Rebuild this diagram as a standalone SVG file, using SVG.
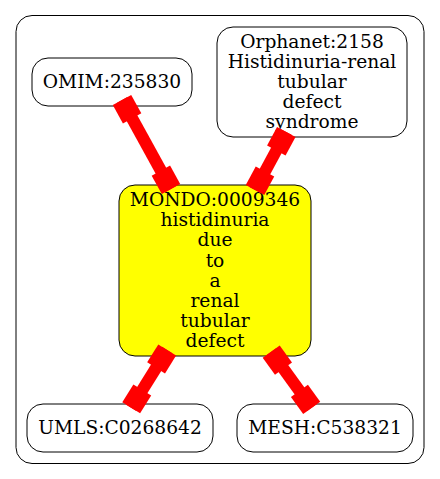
<svg xmlns="http://www.w3.org/2000/svg" width="440" height="479" viewBox="0 0 440 479">
<style>
.node rect{fill:#fff;stroke:#000;stroke-width:1}
.node text{font-family:"DejaVu Serif","Liberation Serif",serif;font-size:18.67px;text-anchor:middle;fill:#000}
.edge line{stroke:#f00;stroke-width:12}
.edge rect{fill:#f00}
</style>
<rect width="440" height="479" fill="#fff"/>
<rect id="cluster" x="16" y="15.5" width="408" height="448" rx="16" fill="none" stroke="#000" stroke-width="1"/>
<g id="n_omim" class="node">
<rect x="32" y="58" width="160" height="48" rx="16"/>
<text x="112" y="87.5">OMIM:235830</text>
</g>
<g id="n_orphanet" class="node">
<rect x="217" y="27" width="190" height="110" rx="16"/>
<text x="312" y="47.5">Orphanet:2158</text>
<text x="312" y="67.6">Histidinuria-renal</text>
<text x="312" y="87.7">tubular</text>
<text x="312" y="107.8">defect</text>
<text x="312" y="127.9">syndrome</text>
</g>
<g id="n_mondo" class="node">
<rect x="119" y="185" width="192" height="171" rx="16" style="fill:#ff0"/>
<text x="215" y="206.2">MONDO:0009346</text>
<text x="215" y="226.3">histidinuria</text>
<text x="215" y="246.4">due</text>
<text x="215" y="266.5">to</text>
<text x="215" y="286.6">a</text>
<text x="215" y="306.7">renal</text>
<text x="215" y="326.8">tubular</text>
<text x="215" y="346.9">defect</text>
</g>
<g id="n_umls" class="node">
<rect x="27" y="404" width="186" height="48" rx="16"/>
<text x="120" y="433.5">UMLS:C0268642</text>
</g>
<g id="n_mesh" class="node">
<rect x="237" y="404" width="176" height="48" rx="16"/>
<text x="325" y="433.5">MESH:C538321</text>
</g>
<g id="edges" class="edge">
<g transform="translate(122,100) rotate(61.17)">
<line x1="0" y1="0" x2="101.6" y2="0"/>
<rect x="0" y="-10.5" width="21" height="21"/>
<rect x="80.6" y="-10.5" width="21" height="21"/>
</g>
<g transform="translate(286.3,132) rotate(118.35)">
<line x1="0" y1="0" x2="65.9" y2="0"/>
<rect x="0" y="-10.5" width="21" height="21"/>
<rect x="44.9" y="-10.5" width="21" height="21"/>
</g>
<g transform="translate(167.2,350) rotate(121.92)">
<line x1="0" y1="0" x2="68.1" y2="0"/>
<rect x="0" y="-10.5" width="21" height="21"/>
<rect x="47.1" y="-10.5" width="21" height="21"/>
</g>
<g transform="translate(271.2,351.7) rotate(54.17)">
<line x1="0" y1="0" x2="69.2" y2="0"/>
<rect x="0" y="-10.5" width="21" height="21"/>
<rect x="48.2" y="-10.5" width="21" height="21"/>
</g>
</g>
</svg>
